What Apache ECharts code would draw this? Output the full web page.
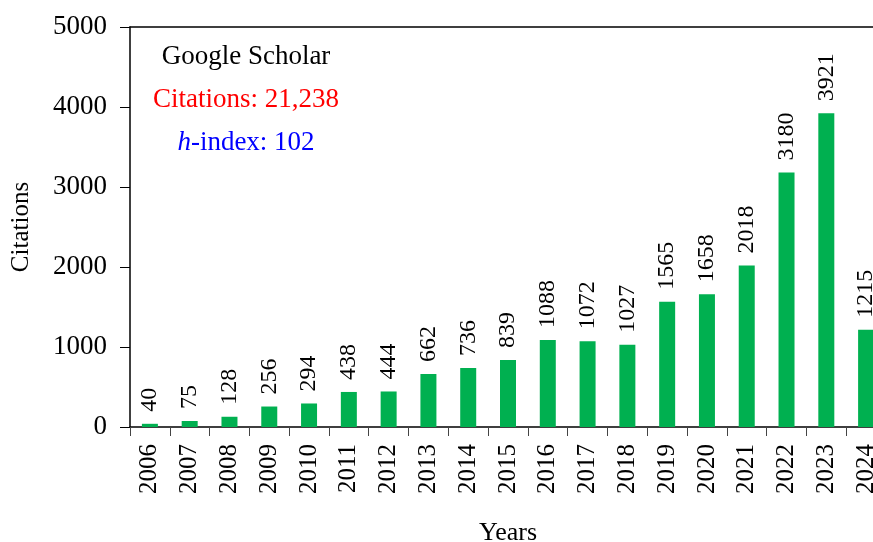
<!DOCTYPE html>
<html>
<head>
<meta charset="utf-8">
<script src="https://cdn.jsdelivr.net/npm/echarts@6/dist/echarts.min.js"></script>
<style>
  html, body { margin: 0; padding: 0; background: #fff; }
  #chart { width: 873px; height: 542px; }
</style>
</head>
<body>
<div id="chart"></div>
<script>
const years = ['2006', '2007', '2008', '2009', '2010', '2011', '2012', '2013', '2014', '2015',
  '2016', '2017', '2018', '2019', '2020', '2021', '2022', '2023', '2024']
const citations = [40, 75, 128, 256, 294, 438, 444, 662, 736, 839,
  1088, 1072, 1027, 1565, 1658, 2018, 3180, 3921, 1215]
const yTicks = [0, 1000, 2000, 3000, 4000, 5000]

const serif = "'Liberation Serif', 'Times New Roman', serif"

const chart = echarts.init(document.getElementById('chart'), null, { renderer: 'canvas' })

chart.setOption({
  animation: false,
  textStyle: { fontFamily: serif },
  grid: {
    left: 130,
    top: 27,
    bottom: 115,
    right: -13,
    containLabel: false,
    outerBoundsMode: 'none'
  },
  xAxis: [
    {
      type: 'category',
      data: years,
      name: 'Years',
      nameLocation: 'middle',
      nameGap: 93,
      nameTextStyle: { fontFamily: serif, fontSize: 26, color: '#000' },
      axisLine: { lineStyle: { color: '#000', width: 1.5 } },
      axisTick: { show: true, inside: false, length: 9, lineStyle: { color: '#444' } },
      axisLabel: {
        rotate: 90,
        margin: 17,
        fontFamily: serif,
        fontSize: 25,
        color: '#000'
      }
    },
    {
      // top border line of the plot
      type: 'category',
      data: years,
      position: 'top',
      axisLine: { lineStyle: { color: '#000', width: 1.5 } },
      axisTick: { show: false },
      axisLabel: { show: false }
    }
  ],
  yAxis: {
    type: 'value',
    min: yTicks[0],
    max: yTicks[yTicks.length - 1],
    interval: 1000,
    name: 'Citations',
    nameLocation: 'middle',
    nameGap: 96,
    nameTextStyle: { fontFamily: serif, fontSize: 25, color: '#000' },
    axisLine: { show: true, lineStyle: { color: '#000', width: 1.5 } },
    axisTick: { show: true, inside: false, length: 10, lineStyle: { color: '#000' } },
    splitLine: { show: false },
    axisLabel: {
      margin: 23,
      formatter: (v) => String(v),
      fontFamily: serif,
      fontSize: 27,
      color: '#000'
    }
  },
  series: [
    {
      type: 'bar',
      data: citations,
      barWidth: 16,
      itemStyle: { color: '#00B050' },
      label: {
        show: true,
        position: 'top',
        rotate: 90,
        align: 'left',
        verticalAlign: 'middle',
        distance: 12,
        fontFamily: serif,
        fontSize: 24,
        color: '#000'
      }
    }
  ],
  graphic: [
    {
      type: 'text',
      x: 246,
      y: 57,
      style: {
        text: 'Google Scholar',
        fontFamily: serif,
        fontSize: 27,
        fill: '#000',
        align: 'center',
        verticalAlign: 'middle'
      }
    },
    {
      type: 'text',
      x: 246,
      y: 100,
      style: {
        text: 'Citations: 21,238',
        fontFamily: serif,
        fontSize: 27,
        fill: '#FF0000',
        align: 'center',
        verticalAlign: 'middle'
      }
    },
    {
      type: 'text',
      x: 246,
      y: 143,
      style: {
        text: '{i|h}-index: 102',
        fontFamily: serif,
        fontSize: 27,
        fill: '#0000FF',
        align: 'center',
        verticalAlign: 'middle',
        rich: {
          i: { fontFamily: serif, fontSize: 27, fontStyle: 'italic', fill: '#0000FF' }
        }
      }
    }
  ]
})
</script>
</body>
</html>
